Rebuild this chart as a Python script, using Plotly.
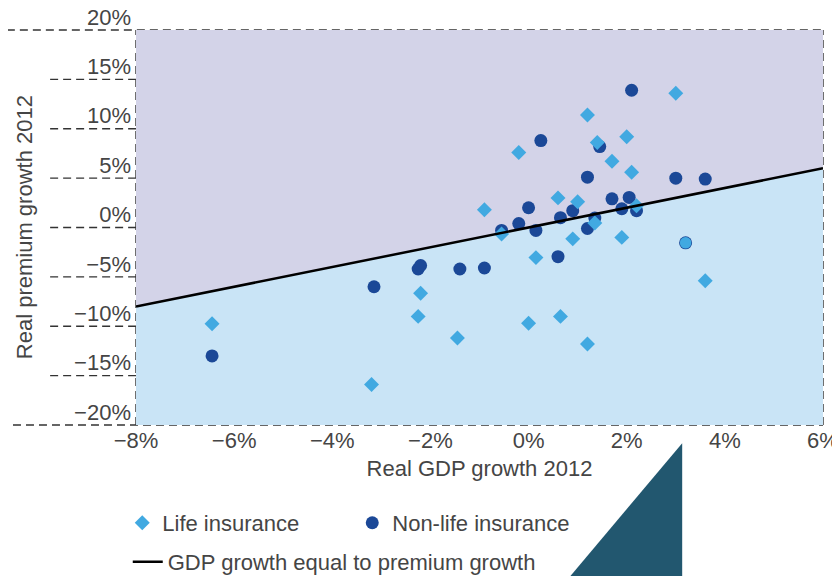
import plotly.graph_objects as go

# axes
gdp_range = [-8, 6]
prem_range = [-20, 20]
x_ticks = [-8, -6, -4, -2, 0, 2, 4, 6]
y_ticks = [-20, -15, -10, -5, 0, 5, 10, 15, 20]

# life insurance (real GDP growth, real premium growth), in %
life_gdp = [3.0, 1.2, -0.2, 1.4, 2.0, 1.7, 2.1, -0.9, 0.6, 1.0, 2.2, -0.55, 1.35,
            0.9, 1.9, 0.15, 3.6, -2.2, -2.25, -1.45, 0.0, 0.65, 1.2, -6.45, -3.2, 3.2]
life_prem = [13.6, 11.4, 7.6, 8.6, 9.2, 6.7, 5.6, 1.8, 3.0, 2.6, 2.2, -0.65, 0.45,
             -1.15, -1.0, -3.05, -5.4, -6.65, -9.0, -11.2, -9.7, -9.0, -11.8, -9.75, -15.9, -1.55]

# non-life insurance
nonlife_gdp = [2.1, 0.25, 1.45, 1.2, 3.0, 3.6, 0.0, 0.9, 0.65, 1.7, 2.05, 1.9, 2.2,
               -0.2, -0.55, 0.15, 1.35, 1.2, 0.6, 3.2, -2.25, -2.2, -1.4, -0.9, -3.15, -6.45]
nonlife_prem = [13.9, 8.8, 8.2, 5.1, 5.0, 4.9, 2.0, 1.7, 1.0, 2.9, 3.05, 1.9, 1.7,
                0.4, -0.3, -0.3, 0.95, -0.1, -2.95, -1.55, -4.2, -3.85, -4.2, -4.1, -6.0, -13.0]

TXT = "#454545"
FONT = "Liberation Sans, Arial, sans-serif"
FS = 22
LIFE_C = "#41a9e1"
NONLIFE_C = "#1b4897"
GRID = "#333333"


def fx(v):
    return (v - gdp_range[0]) / (gdp_range[1] - gdp_range[0])


def fy(v):
    return (v - prem_range[0]) / (prem_range[1] - prem_range[0])


def pct(v):
    return f"{v}%".replace("-", "\u2212")


fig = go.Figure()

# non-life first, life drawn on top
fig.add_trace(go.Scatter(
    x=nonlife_gdp, y=nonlife_prem, mode="markers", name="Non-life insurance",
    marker=dict(symbol="circle", size=13, color=NONLIFE_C, line=dict(width=0)),
    legend="legend", cliponaxis=False))

# one life point in the source is drawn as a circle
life_symbols = ["diamond"] * (len(life_gdp) - 1) + ["circle"]
fig.add_trace(go.Scatter(
    x=life_gdp, y=life_prem, mode="markers", name="Life insurance",
    marker=dict(symbol=life_symbols, size=11.5, color=LIFE_C, line=dict(width=0)),
    legend="legend", cliponaxis=False))

fig.add_trace(go.Scatter(
    x=gdp_range, y=gdp_range, mode="lines",
    name="GDP growth equal to premium growth",
    line=dict(color="black", width=2.5), legend="legend2"))

shapes = []
# shaded halves above / below the equal-growth line
x0, x1 = gdp_range
y0, y1 = prem_range
shapes.append(dict(type="path", xref="x", yref="y", layer="below", line_width=0,
                   fillcolor="#d3d3e8",
                   path=f"M {x0},{x0} L {x1},{x1} L {x1},{y1} L {x0},{y1} Z"))
shapes.append(dict(type="path", xref="x", yref="y", layer="below", line_width=0,
                   fillcolor="#c9e4f6",
                   path=f"M {x0},{x0} L {x1},{x1} L {x1},{y0} L {x0},{y0} Z"))

dash = dict(color=GRID, width=1.4, dash="8px,5px")
for v in x_ticks:
    shapes.append(dict(type="line", xref="paper", yref="paper", layer="between",
                       x0=fx(v), x1=fx(v), y0=0, y1=1, line=dash))
for v in y_ticks:
    if v == prem_range[1]:
        left = -0.188
    elif v == prem_range[0]:
        left = -0.198
    else:
        left = -0.125
    shapes.append(dict(type="line", xref="paper", yref="paper", layer="between",
                       x0=left, x1=1, y0=fy(v), y1=fy(v), line=dash))

# decorative corner triangle
shapes.append(dict(type="path", xref="paper", yref="paper", layer="above", line_width=0,
                   fillcolor="#22576f",
                   path="M 0.795,-0.046 L 0.795,-0.383 L 0.632,-0.383 Z"))

fig.update_layout(
    # page body adds an 8px offset, so the figure is 8px smaller each way
    width=832, height=568,
    margin=dict(l=128, r=17, t=22, b=151, autoexpand=False),
    paper_bgcolor="white", plot_bgcolor="white",
    font=dict(family=FONT, size=FS, color=TXT),
    shapes=shapes,
    showlegend=True,
    legend=dict(orientation="h", x=-0.02, y=-0.248, xanchor="left", yanchor="middle",
                traceorder="reversed", entrywidth=185, entrywidthmode="pixels",
                font=dict(size=FS), bgcolor="rgba(0,0,0,0)"),
    legend2=dict(orientation="h", x=-0.012, y=-0.347, xanchor="left", yanchor="middle",
                 font=dict(size=FS), bgcolor="rgba(0,0,0,0)"),
    annotations=[dict(text="Real premium growth 2012", xref="paper", yref="paper",
                      x=-0.162, y=0.5, xanchor="center", yanchor="middle",
                      textangle=-90, showarrow=False, font=dict(size=FS, color=TXT))],
)

fig.update_xaxes(range=gdp_range, tickvals=x_ticks, ticktext=[pct(v) for v in x_ticks],
                 showgrid=False, zeroline=False, showline=False, ticks="",
                 automargin=False,
                 title=dict(text="Real GDP growth 2012", standoff=8, font=dict(size=FS)),
                 tickfont=dict(size=FS))
fig.update_yaxes(range=prem_range, tickvals=y_ticks, ticktext=[pct(v) for v in y_ticks],
                 showgrid=False, zeroline=False, showline=False, ticks="",
                 automargin=False, ticklabelshift=-13, ticklabelstandoff=4,
                 ticklabeloverflow="allow", tickfont=dict(size=FS))

fig.write_html("out.html")
